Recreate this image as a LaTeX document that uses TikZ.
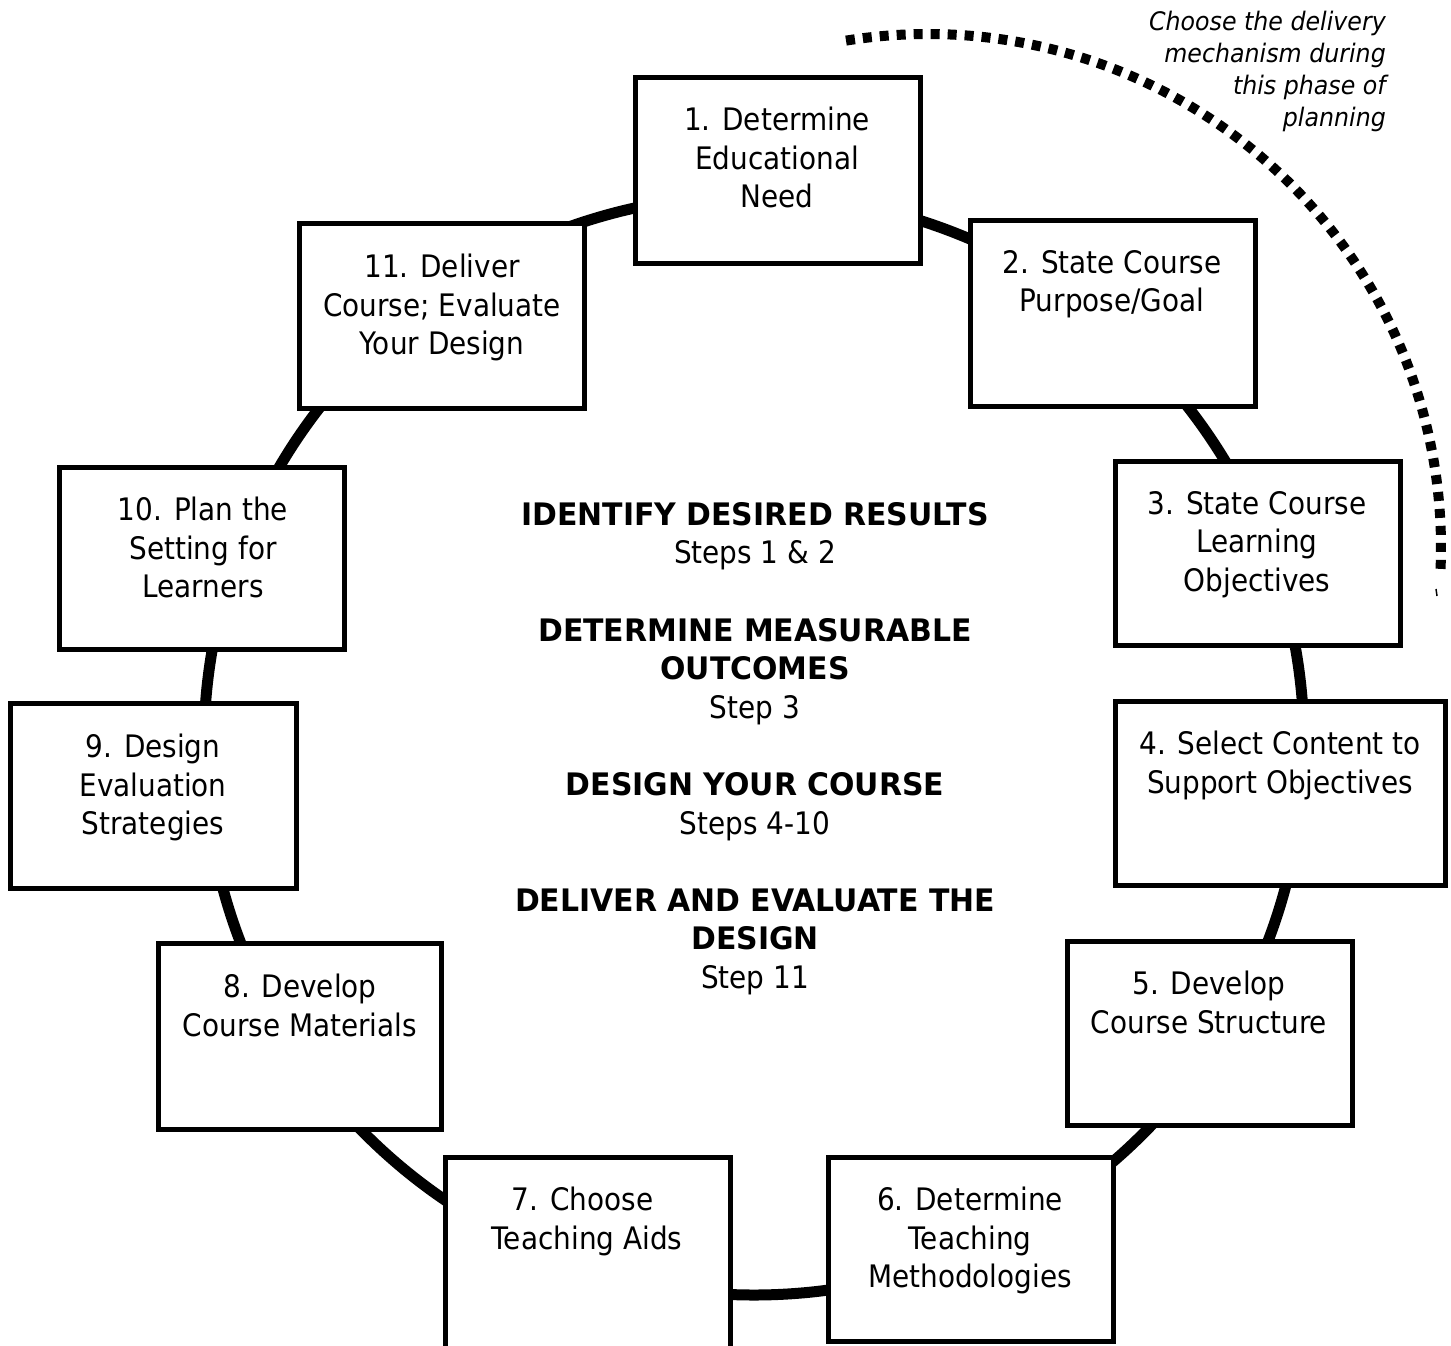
\documentclass[tikz,border=0pt]{standalone}
\usepackage{fontspec}
\setmainfont{DejaVu Sans}[FakeStretch=0.9, BoldFeatures={FakeStretch=0.965}, ItalicFeatures={FakeStretch=0.93}]
\usetikzlibrary{calc,fit}
\begin{document}
\begin{tikzpicture}[x=1pt,y=-1pt,
  ring/.style={line width=11pt},
  dotline/.style={line width=10pt, dash pattern=on 9pt off 8pt},
  stepbox/.style={draw, line width=5pt, fill=white},
  steptext/.style={anchor=north, inner sep=0pt, align=center, font=\fontsize{31}{38.5}\selectfont},
  midtext/.style={anchor=north, inner sep=0pt, align=center, font=\fontsize{31}{38.6}\selectfont},
  notetext/.style={anchor=north east, inner sep=0pt, align=right, font=\fontsize{25.5}{32}\selectfont\itshape}]
\fill[white] (0,0) rectangle (1451,1345);
\useasboundingbox (0,0) rectangle (1451,1345);
% ring and dotted arc
\coordinate (ctr) at (754,745);
\draw[ring] (ctr) circle[radius=550];
\coordinate (dctr) at (928,547);
\draw[dotline] ($(dctr)+(-99.2:513)$) arc[start angle=-99.2, end angle=3.1, radius=513];
\draw[line width=1.5pt] (1436,589) -- (1437,596);
% boxes
\node[stepbox, fit={(635,77) (920,263)}, inner sep=0pt] (b1) {};
\node[stepbox, fit={(970,220) (1255,406)}, inner sep=0pt] (b2) {};
\node[stepbox, fit={(1115,461) (1400,645)}, inner sep=0pt] (b3) {};
\node[stepbox, fit={(1115,701) (1445,885)}, inner sep=0pt] (b4) {};
\node[stepbox, fit={(1067,941) (1352,1125)}, inner sep=0pt] (b5) {};
\node[stepbox, fit={(828,1157) (1113,1341)}, inner sep=0pt] (b6) {};
\node[stepbox, fit={(445,1157) (730,1400)}, inner sep=0pt] (b7) {};
\node[stepbox, fit={(158,943) (441,1129)}, inner sep=0pt] (b8) {};
\node[stepbox, fit={(10,703) (296,888)}, inner sep=0pt] (b9) {};
\node[stepbox, fit={(59,467) (344,649)}, inner sep=0pt] (b10) {};
\node[stepbox, fit={(299,223) (584,408)}, inner sep=0pt] (b11) {};
% box texts
\node[steptext] (t1) at (777,107) {1. Determine\\Educational\\Need};
\node[steptext] (t2) at (1112,250) {2. State Course\\Purpose/Goal};
\node[steptext] (t3) at (1257,491) {3. State Course\\Learning\\Objectives};
\node[steptext] (t4) at (1280,731) {4. Select Content to\\Support Objectives};
\node[steptext] (t5) at (1209,971) {5. Develop\\Course Structure};
\node[steptext] (t6) at (970,1187) {6. Determine\\Teaching\\Methodologies};
\node[steptext] (t7) at (587,1187) {7. Choose\phantom{.}\\Teaching Aids};
\node[steptext] (t8) at (300,974) {8. Develop\\Course Materials};
\node[steptext] (t9) at (153,734) {9. Design\\Evaluation\\Strategies};
\node[steptext] (t10) at (203,497) {10. Plan the\\Setting for\\Learners};
\node[steptext] (t11) at (442,254) {11. Deliver\\Course; Evaluate\\Your Design};
% centre text
\node[midtext] (mid) at (755,502) {\textbf{IDENTIFY DESIRED RESULTS}\\Steps 1 \& 2\\~\\\textbf{DETERMINE MEASURABLE}\\\textbf{OUTCOMES}\\Step 3\\~\\\textbf{DESIGN YOUR COURSE}\\Steps 4-10\\~\\\textbf{DELIVER AND EVALUATE THE}\\\textbf{DESIGN}\\Step 11};
% note
\node[notetext] (note) at (1386,11) {Choose the delivery\\mechanism during\\this phase of\\planning};
\end{tikzpicture}
\end{document}
